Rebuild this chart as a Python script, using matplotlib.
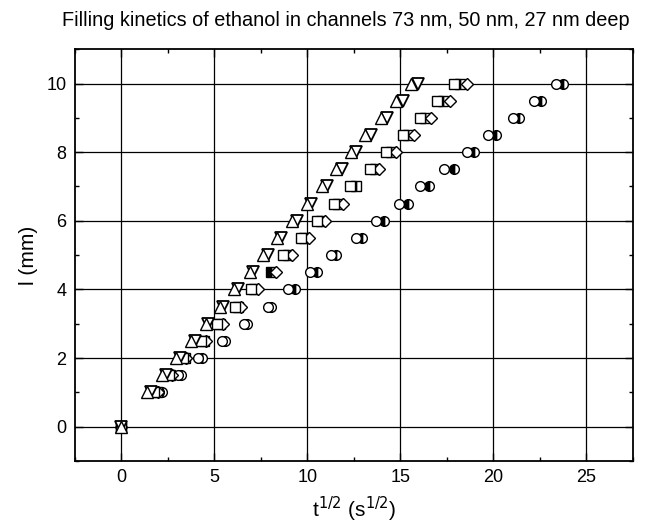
import numpy as np
import matplotlib.pyplot as plt
from matplotlib.ticker import MultipleLocator

plt.rcParams["font.family"] = ["Liberation Sans", "DejaVu Sans"]

nan = np.nan

# longitud llenada (mm)
l_mm = [0, 1, 1.5, 2, 2.5, 3, 3.5, 4, 4.5, 5, 5.5, 6, 6.5, 7, 7.5, 8, 8.5, 9, 9.5, 10]

# t^1/2 (s^1/2) por serie
tri_up = [0, 1.38, 2.2, 2.96, 3.75, 4.55, 5.28, 6.07, 6.9, 7.64, 8.39, 9.18,
          10.0, 10.8, 11.55, 12.36, 13.12, 13.98, 14.78, 15.59]
tri_dn = [0, 1.6, 2.4, 3.15, 3.94, 4.68, 5.46, 6.3, 7.1, 7.87, 8.6, 9.43,
          10.2, 11.05, 11.85, 12.64, 13.43, 14.28, 15.14, 15.97]
sq_open = [0, 1.75, 2.55, 3.3, 4.3, 5.14, 6.09, 6.99, nan, 8.7, 9.64, 10.52,
           11.43, 12.3, 13.35, 14.23, 15.16, 16.04, 16.97, 17.87]
sq_half = [0, 1.9, 2.6, 3.4, 4.45, 5.3, 6.25, 7.15, 8.05, 8.95, 9.85, 10.75,
           11.65, 12.6, 13.62, 14.52, 15.41, 16.31, 17.29, 18.19]
diamond = [0, 1.95, 2.75, 3.5, 4.57, 5.45, 6.45, 7.34, 8.33, 9.18, 10.1, 10.96,
           11.91, nan, 13.87, 14.75, 15.72, 16.67, 17.65, 18.58]
circ_open = [0, 2.05, 3.05, 4.15, 5.4, 6.62, 7.9, 8.96, 10.15, 11.29, 12.6, 13.71,
             14.92, 16.07, 17.33, 18.6, 19.72, 21.05, 22.2, 23.35]
circ_half = [0, 2.2, 3.23, 4.33, 5.55, 6.77, 8.03, 9.32, 10.52, 11.56, 12.93, 14.13,
             15.41, 16.57, 17.9, 18.97, 20.16, 21.41, 22.55, 23.75]

fig = plt.figure(figsize=(6.45, 5.29), dpi=100)
ax = fig.add_axes([0.116, 0.1285, 0.865, 0.7785])

estilo = dict(linestyle="none", markeredgecolor="black", markeredgewidth=1.0,
              markerfacecolor="white", markerfacecoloralt="black")

ax.plot(circ_half, l_mm, marker="o", ms=7, fillstyle="right", **estilo)
ax.plot(circ_open, l_mm, marker="o", ms=7, **estilo)
ax.plot(sq_half, l_mm, marker="s", ms=6.5, fillstyle="right", **estilo)
ax.plot(diamond, l_mm, marker="D", ms=6, **estilo)
ax.plot(sq_open, l_mm, marker="s", ms=6.5, **estilo)
ax.plot(tri_dn, l_mm, marker="v", ms=8, **dict(estilo, markeredgewidth=1.3))
ax.plot(tri_up, l_mm, marker="^", ms=8, **estilo)

ax.set_xlim(-2.5, 27.5)
ax.set_ylim(-1, 11)
ax.xaxis.set_major_locator(MultipleLocator(5))
ax.xaxis.set_minor_locator(MultipleLocator(2.5))
ax.yaxis.set_major_locator(MultipleLocator(2))
ax.yaxis.set_minor_locator(MultipleLocator(1))
ax.tick_params(which="both", direction="in", top=True, right=True,
               labelsize=13, pad=6, width=1.0)
ax.tick_params(which="major", length=6)
ax.tick_params(which="minor", length=3)
ax.grid(True, which="major", color="black", linewidth=0.9)
ax.set_axisbelow(True)
for s in ax.spines.values():
    s.set_linewidth(1.3)

ax.set_xlabel("t$^{1/2}$ (s$^{1/2}$)", fontsize=15, labelpad=6)
ax.set_ylabel("l (mm)", fontsize=15, labelpad=6)
fig.text(0.536, 0.962, "Filling kinetics of ethanol in channels 73 nm, 50 nm, 27 nm deep",
         fontsize=14.3, ha="center", va="center")

fig.savefig("out.png", dpi=100)
